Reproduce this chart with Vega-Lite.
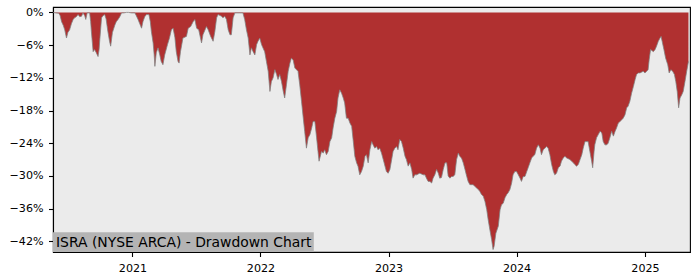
{
  "$schema": "https://vega.github.io/schema/vega-lite/v6.json",
  "width": 637,
  "height": 245,
  "autosize": "none",
  "padding": {"left": 53, "top": 7, "right": 10, "bottom": 28},
  "background": "white",
  "config": {
    "view": {"fill": "#ebebeb", "stroke": "#000000", "strokeWidth": 1.1},
    "axis": {
      "labelFont": "DejaVu Sans",
      "labelFontSize": 11.1,
      "labelColor": "#000000",
      "tickColor": "#000000",
      "tickSize": 4.5,
      "tickWidth": 1.1,
      "domainColor": "#000000",
      "domainWidth": 1.1,
      "grid": false,
      "labelPadding": 5.5,
      "title": null,
      "zindex": 1
    }
  },
  "data": {"values": [
      {"date":"2020-05-20","drawdown":0},{"date":"2020-05-27","drawdown":-0.1},{"date":"2020-06-05","drawdown":-0.15},{"date":"2020-06-09","drawdown":-0.6},{"date":"2020-06-13","drawdown":-1.7},{"date":"2020-06-18","drawdown":-2.4},{"date":"2020-06-22","drawdown":-3.2},{"date":"2020-06-27","drawdown":-4.7},{"date":"2020-07-01","drawdown":-3.7},{"date":"2020-07-06","drawdown":-3.2},
      {"date":"2020-07-11","drawdown":-2.1},{"date":"2020-07-16","drawdown":-1.3},{"date":"2020-07-20","drawdown":-1.0},{"date":"2020-07-25","drawdown":-0.8},{"date":"2020-07-30","drawdown":-0.4},{"date":"2020-08-04","drawdown":-0.8},{"date":"2020-08-09","drawdown":-0.7},{"date":"2020-08-13","drawdown":-0.1},{"date":"2020-08-18","drawdown":-0.6},{"date":"2020-08-21","drawdown":-1.3},
      {"date":"2020-08-25","drawdown":-0.1},{"date":"2020-09-01","drawdown":-0.1},{"date":"2020-09-04","drawdown":-1.7},{"date":"2020-09-06","drawdown":-3.5},{"date":"2020-09-11","drawdown":-7.2},{"date":"2020-09-15","drawdown":-6.8},{"date":"2020-09-20","drawdown":-7.4},{"date":"2020-09-25","drawdown":-8.1},{"date":"2020-09-28","drawdown":-6.8},{"date":"2020-09-30","drawdown":-5.0},
      {"date":"2020-10-05","drawdown":-1.0},{"date":"2020-10-09","drawdown":-0.6},{"date":"2020-10-14","drawdown":-0.4},{"date":"2020-10-18","drawdown":-1.2},{"date":"2020-10-23","drawdown":-3.5},{"date":"2020-10-28","drawdown":-5.4},{"date":"2020-10-31","drawdown":-6.2},{"date":"2020-11-05","drawdown":-3.7},{"date":"2020-11-12","drawdown":-2.3},{"date":"2020-11-16","drawdown":-1.7},
      {"date":"2020-11-21","drawdown":-1.3},{"date":"2020-11-26","drawdown":-0.8},{"date":"2020-12-01","drawdown":-0.1},{"date":"2020-12-07","drawdown":-0.1},{"date":"2020-12-15","drawdown":0},{"date":"2020-12-21","drawdown":0},{"date":"2020-12-29","drawdown":-0.1},{"date":"2021-01-08","drawdown":-0.1},{"date":"2021-01-12","drawdown":-0.6},{"date":"2021-01-17","drawdown":-1.3},
      {"date":"2021-01-22","drawdown":-2.1},{"date":"2021-01-27","drawdown":-2.9},{"date":"2021-01-31","drawdown":-1.7},{"date":"2021-02-05","drawdown":-0.8},{"date":"2021-02-10","drawdown":-0.4},{"date":"2021-02-17","drawdown":-0.4},{"date":"2021-02-21","drawdown":-1.7},{"date":"2021-02-24","drawdown":-3.5},{"date":"2021-03-01","drawdown":-5.6},{"date":"2021-03-04","drawdown":-7.8},
      {"date":"2021-03-06","drawdown":-9.9},{"date":"2021-03-10","drawdown":-7.4},{"date":"2021-03-15","drawdown":-6.5},{"date":"2021-03-20","drawdown":-7.8},{"date":"2021-03-24","drawdown":-9.0},{"date":"2021-03-29","drawdown":-9.6},{"date":"2021-04-03","drawdown":-7.8},{"date":"2021-04-11","drawdown":-5.9},{"date":"2021-04-17","drawdown":-4.6},{"date":"2021-04-22","drawdown":-3.2},
      {"date":"2021-04-27","drawdown":-2.9},{"date":"2021-05-02","drawdown":-4.6},{"date":"2021-05-06","drawdown":-7.2},{"date":"2021-05-11","drawdown":-9.0},{"date":"2021-05-14","drawdown":-9.3},{"date":"2021-05-18","drawdown":-7.2},{"date":"2021-05-25","drawdown":-4.7},{"date":"2021-06-04","drawdown":-4.4},{"date":"2021-06-09","drawdown":-2.9},{"date":"2021-06-16","drawdown":-2.6},
      {"date":"2021-06-23","drawdown":-1.7},{"date":"2021-06-28","drawdown":-1.3},{"date":"2021-07-03","drawdown":-2.9},{"date":"2021-07-09","drawdown":-3.2},{"date":"2021-07-17","drawdown":-5.6},{"date":"2021-07-21","drawdown":-4.1},{"date":"2021-07-31","drawdown":-2.6},{"date":"2021-08-05","drawdown":-3.2},{"date":"2021-08-12","drawdown":-4.4},{"date":"2021-08-19","drawdown":-5.3},
      {"date":"2021-08-24","drawdown":-3.5},{"date":"2021-08-29","drawdown":-1.0},{"date":"2021-09-02","drawdown":-0.4},{"date":"2021-09-12","drawdown":-0.7},{"date":"2021-09-16","drawdown":-1.0},{"date":"2021-09-21","drawdown":-0.7},{"date":"2021-09-26","drawdown":-1.3},{"date":"2021-10-01","drawdown":-3.2},{"date":"2021-10-06","drawdown":-4.1},{"date":"2021-10-10","drawdown":-4.1},
      {"date":"2021-10-15","drawdown":-1.0},{"date":"2021-10-20","drawdown":-0.1},{"date":"2021-11-03","drawdown":-0.1},{"date":"2021-11-12","drawdown":-0.1},{"date":"2021-11-17","drawdown":-1.3},{"date":"2021-11-22","drawdown":-3.2},{"date":"2021-11-27","drawdown":-4.7},{"date":"2021-12-02","drawdown":-7.8},{"date":"2021-12-06","drawdown":-6.5},{"date":"2021-12-11","drawdown":-7.2},
      {"date":"2021-12-16","drawdown":-7.8},{"date":"2021-12-21","drawdown":-5.9},{"date":"2021-12-25","drawdown":-5.3},{"date":"2021-12-30","drawdown":-4.7},{"date":"2022-01-04","drawdown":-5.9},{"date":"2022-01-08","drawdown":-6.5},{"date":"2022-01-13","drawdown":-7.2},{"date":"2022-01-18","drawdown":-9.0},{"date":"2022-01-23","drawdown":-10.8},{"date":"2022-01-28","drawdown":-14.5},
      {"date":"2022-02-01","drawdown":-12.7},{"date":"2022-02-06","drawdown":-12.0},{"date":"2022-02-11","drawdown":-10.5},{"date":"2022-02-16","drawdown":-11.4},{"date":"2022-02-20","drawdown":-12.3},{"date":"2022-02-25","drawdown":-11.4},{"date":"2022-03-02","drawdown":-12.7},{"date":"2022-03-07","drawdown":-14.5},{"date":"2022-03-11","drawdown":-15.7},{"date":"2022-03-16","drawdown":-13.3},
      {"date":"2022-03-21","drawdown":-10.8},{"date":"2022-03-26","drawdown":-9.3},{"date":"2022-03-30","drawdown":-8.4},{"date":"2022-04-04","drawdown":-8.7},{"date":"2022-04-09","drawdown":-10.2},{"date":"2022-04-18","drawdown":-10.8},{"date":"2022-04-23","drawdown":-13.3},{"date":"2022-04-28","drawdown":-16.3},{"date":"2022-05-03","drawdown":-19.4},{"date":"2022-05-07","drawdown":-21.8},
      {"date":"2022-05-12","drawdown":-24.9},{"date":"2022-05-17","drawdown":-23.0},{"date":"2022-05-22","drawdown":-22.4},{"date":"2022-05-27","drawdown":-21.2},{"date":"2022-05-31","drawdown":-20.0},{"date":"2022-06-05","drawdown":-20.0},{"date":"2022-06-10","drawdown":-23.0},{"date":"2022-06-14","drawdown":-25.5},{"date":"2022-06-17","drawdown":-27.3},{"date":"2022-06-24","drawdown":-25.5},
      {"date":"2022-06-29","drawdown":-25.8},{"date":"2022-07-03","drawdown":-25.2},{"date":"2022-07-08","drawdown":-26.1},{"date":"2022-07-13","drawdown":-25.5},{"date":"2022-07-18","drawdown":-23.7},{"date":"2022-07-23","drawdown":-23.0},{"date":"2022-07-27","drawdown":-21.2},{"date":"2022-08-01","drawdown":-19.4},{"date":"2022-08-06","drawdown":-18.2},{"date":"2022-08-10","drawdown":-15.7},
      {"date":"2022-08-15","drawdown":-14.2},{"date":"2022-08-20","drawdown":-14.8},{"date":"2022-08-25","drawdown":-15.7},{"date":"2022-08-29","drawdown":-16.6},{"date":"2022-09-03","drawdown":-19.4},{"date":"2022-09-08","drawdown":-19.4},{"date":"2022-09-13","drawdown":-20.3},{"date":"2022-09-18","drawdown":-20.9},{"date":"2022-09-22","drawdown":-23.3},{"date":"2022-09-27","drawdown":-26.4},
      {"date":"2022-10-02","drawdown":-27.6},{"date":"2022-10-06","drawdown":-28.2},{"date":"2022-10-11","drawdown":-29.8},{"date":"2022-10-16","drawdown":-29.2},{"date":"2022-10-21","drawdown":-28.2},{"date":"2022-10-26","drawdown":-26.4},{"date":"2022-10-30","drawdown":-26.1},{"date":"2022-11-04","drawdown":-27.6},{"date":"2022-11-09","drawdown":-25.2},{"date":"2022-11-14","drawdown":-23.7},
      {"date":"2022-11-18","drawdown":-24.3},{"date":"2022-11-23","drawdown":-24.9},{"date":"2022-11-28","drawdown":-24.6},{"date":"2022-12-02","drawdown":-25.2},{"date":"2022-12-07","drawdown":-24.9},{"date":"2022-12-12","drawdown":-25.8},{"date":"2022-12-17","drawdown":-27.0},{"date":"2022-12-26","drawdown":-29.2},{"date":"2022-12-31","drawdown":-29.5},{"date":"2023-01-05","drawdown":-28.8},
      {"date":"2023-01-10","drawdown":-27.0},{"date":"2023-01-14","drawdown":-25.5},{"date":"2023-01-19","drawdown":-24.9},{"date":"2023-01-24","drawdown":-24.6},{"date":"2023-01-28","drawdown":-25.2},{"date":"2023-02-02","drawdown":-23.3},{"date":"2023-02-07","drawdown":-23.7},{"date":"2023-02-12","drawdown":-24.9},{"date":"2023-02-17","drawdown":-26.4},{"date":"2023-02-21","drawdown":-27.0},
      {"date":"2023-02-26","drawdown":-28.2},{"date":"2023-03-03","drawdown":-27.6},{"date":"2023-03-08","drawdown":-28.8},{"date":"2023-03-12","drawdown":-30.4},{"date":"2023-03-17","drawdown":-29.8},{"date":"2023-03-22","drawdown":-29.8},{"date":"2023-03-31","drawdown":-29.5},{"date":"2023-04-10","drawdown":-29.8},{"date":"2023-04-15","drawdown":-29.8},{"date":"2023-04-19","drawdown":-30.4},
      {"date":"2023-04-24","drawdown":-31.0},{"date":"2023-04-29","drawdown":-31.0},{"date":"2023-05-04","drawdown":-31.3},{"date":"2023-05-08","drawdown":-30.4},{"date":"2023-05-13","drawdown":-29.8},{"date":"2023-05-18","drawdown":-28.8},{"date":"2023-05-23","drawdown":-29.5},{"date":"2023-05-27","drawdown":-30.4},{"date":"2023-06-01","drawdown":-30.3},{"date":"2023-06-06","drawdown":-28.8},
      {"date":"2023-06-11","drawdown":-27.6},{"date":"2023-06-16","drawdown":-27.6},{"date":"2023-06-20","drawdown":-30.0},{"date":"2023-06-25","drawdown":-30.4},{"date":"2023-06-30","drawdown":-30.1},{"date":"2023-07-04","drawdown":-30.1},{"date":"2023-07-09","drawdown":-29.8},{"date":"2023-07-14","drawdown":-27.0},{"date":"2023-07-19","drawdown":-25.8},{"date":"2023-07-23","drawdown":-26.4},
      {"date":"2023-07-28","drawdown":-26.7},{"date":"2023-08-02","drawdown":-27.6},{"date":"2023-08-07","drawdown":-28.8},{"date":"2023-08-12","drawdown":-30.1},{"date":"2023-08-16","drawdown":-31.0},{"date":"2023-08-21","drawdown":-31.6},{"date":"2023-08-26","drawdown":-31.6},{"date":"2023-08-30","drawdown":-31.6},{"date":"2023-09-04","drawdown":-31.9},{"date":"2023-09-09","drawdown":-32.2},
      {"date":"2023-09-14","drawdown":-32.5},{"date":"2023-09-18","drawdown":-32.8},{"date":"2023-09-23","drawdown":-33.4},{"date":"2023-09-28","drawdown":-33.7},{"date":"2023-10-03","drawdown":-34.7},{"date":"2023-10-08","drawdown":-36.2},{"date":"2023-10-12","drawdown":-38.0},{"date":"2023-10-17","drawdown":-39.9},{"date":"2023-10-22","drawdown":-41.7},{"date":"2023-10-26","drawdown":-43.5},
      {"date":"2023-10-29","drawdown":-42.9},{"date":"2023-11-03","drawdown":-40.5},{"date":"2023-11-10","drawdown":-39.2},{"date":"2023-11-15","drawdown":-36.2},{"date":"2023-11-19","drawdown":-35.3},{"date":"2023-11-24","drawdown":-35.0},{"date":"2023-11-29","drawdown":-34.0},{"date":"2023-12-04","drawdown":-33.4},{"date":"2023-12-08","drawdown":-33.1},{"date":"2023-12-13","drawdown":-32.5},
      {"date":"2023-12-18","drawdown":-31.3},{"date":"2023-12-22","drawdown":-29.8},{"date":"2023-12-27","drawdown":-29.2},{"date":"2024-01-01","drawdown":-29.2},{"date":"2024-01-06","drawdown":-29.8},{"date":"2024-01-11","drawdown":-30.4},{"date":"2024-01-15","drawdown":-31.0},{"date":"2024-01-20","drawdown":-30.1},{"date":"2024-01-25","drawdown":-30.1},{"date":"2024-01-30","drawdown":-29.2},
      {"date":"2024-02-03","drawdown":-28.5},{"date":"2024-02-08","drawdown":-27.6},{"date":"2024-02-13","drawdown":-26.7},{"date":"2024-02-17","drawdown":-26.4},{"date":"2024-02-22","drawdown":-26.1},{"date":"2024-02-27","drawdown":-24.9},{"date":"2024-03-03","drawdown":-24.3},{"date":"2024-03-08","drawdown":-24.9},{"date":"2024-03-12","drawdown":-26.1},{"date":"2024-03-17","drawdown":-25.2},
      {"date":"2024-03-27","drawdown":-24.6},{"date":"2024-03-31","drawdown":-24.9},{"date":"2024-04-05","drawdown":-26.1},{"date":"2024-04-10","drawdown":-27.9},{"date":"2024-04-15","drawdown":-29.2},{"date":"2024-04-19","drawdown":-29.8},{"date":"2024-04-24","drawdown":-29.5},{"date":"2024-04-29","drawdown":-28.5},{"date":"2024-05-04","drawdown":-28.2},{"date":"2024-05-08","drawdown":-27.3},
      {"date":"2024-05-13","drawdown":-26.7},{"date":"2024-05-18","drawdown":-26.4},{"date":"2024-05-23","drawdown":-26.7},{"date":"2024-06-01","drawdown":-27.0},{"date":"2024-06-11","drawdown":-27.6},{"date":"2024-06-15","drawdown":-27.9},{"date":"2024-06-20","drawdown":-28.2},{"date":"2024-06-25","drawdown":-27.9},{"date":"2024-06-30","drawdown":-27.0},{"date":"2024-07-05","drawdown":-26.1},
      {"date":"2024-07-09","drawdown":-24.9},{"date":"2024-07-14","drawdown":-23.7},{"date":"2024-07-23","drawdown":-23.7},{"date":"2024-07-28","drawdown":-25.5},{"date":"2024-08-02","drawdown":-27.3},{"date":"2024-08-05","drawdown":-28.5},{"date":"2024-08-09","drawdown":-25.5},{"date":"2024-08-11","drawdown":-24.3},{"date":"2024-08-16","drawdown":-23.0},{"date":"2024-08-21","drawdown":-22.4},
      {"date":"2024-08-26","drawdown":-21.8},{"date":"2024-08-31","drawdown":-22.1},{"date":"2024-09-04","drawdown":-23.7},{"date":"2024-09-09","drawdown":-24.3},{"date":"2024-09-14","drawdown":-24.3},{"date":"2024-09-18","drawdown":-24.0},{"date":"2024-09-23","drawdown":-23.0},{"date":"2024-09-28","drawdown":-21.8},{"date":"2024-10-03","drawdown":-22.7},{"date":"2024-10-08","drawdown":-21.8},
      {"date":"2024-10-12","drawdown":-21.2},{"date":"2024-10-17","drawdown":-20.3},{"date":"2024-10-22","drawdown":-20.0},{"date":"2024-10-27","drawdown":-19.7},{"date":"2024-10-31","drawdown":-19.4},{"date":"2024-11-05","drawdown":-18.8},{"date":"2024-11-10","drawdown":-17.5},{"date":"2024-11-14","drawdown":-17.2},{"date":"2024-11-19","drawdown":-16.3},{"date":"2024-11-24","drawdown":-14.8},
      {"date":"2024-11-29","drawdown":-13.6},{"date":"2024-12-04","drawdown":-12.3},{"date":"2024-12-08","drawdown":-11.4},{"date":"2024-12-13","drawdown":-11.1},{"date":"2024-12-18","drawdown":-11.1},{"date":"2024-12-27","drawdown":-10.8},{"date":"2025-01-01","drawdown":-11.1},{"date":"2025-01-06","drawdown":-10.8},{"date":"2025-01-10","drawdown":-10.5},{"date":"2025-01-13","drawdown":-8.7},
      {"date":"2025-01-17","drawdown":-6.8},{"date":"2025-01-25","drawdown":-7.2},{"date":"2025-01-30","drawdown":-6.8},{"date":"2025-02-03","drawdown":-6.2},{"date":"2025-02-08","drawdown":-5.3},{"date":"2025-02-13","drawdown":-4.7},{"date":"2025-02-16","drawdown":-4.4},{"date":"2025-02-19","drawdown":-5.3},{"date":"2025-02-24","drawdown":-6.8},{"date":"2025-03-01","drawdown":-8.4},
      {"date":"2025-03-07","drawdown":-9.6},{"date":"2025-03-11","drawdown":-11.1},{"date":"2025-03-16","drawdown":-10.5},{"date":"2025-03-21","drawdown":-10.8},{"date":"2025-03-26","drawdown":-11.4},{"date":"2025-03-30","drawdown":-12.7},{"date":"2025-04-03","drawdown":-14.5},{"date":"2025-04-07","drawdown":-17.5},{"date":"2025-04-11","drawdown":-15.7},{"date":"2025-04-16","drawdown":-15.1},
      {"date":"2025-04-20","drawdown":-14.5},{"date":"2025-04-25","drawdown":-12.7},{"date":"2025-04-30","drawdown":-10.8},{"date":"2025-05-05","drawdown":-9.0}
  ]},
  "encoding": {
    "x": {
      "field": "date",
      "type": "temporal",
      "scale": {
        "type": "utc",
        "domain": [
          {"year": 2020, "month": 5, "date": 19, "hours": 14, "utc": true},
          {"year": 2025, "month": 5, "date": 9, "hours": 10, "utc": true}
        ]
      },
      "axis": {
        "format": "%Y",
        "labelOverlap": false,
        "values": [
          {"year": 2021, "month": 1, "date": 1, "utc": true},
          {"year": 2022, "month": 1, "date": 1, "utc": true},
          {"year": 2023, "month": 1, "date": 1, "utc": true},
          {"year": 2024, "month": 1, "date": 1, "utc": true},
          {"year": 2025, "month": 1, "date": 1, "utc": true}
        ]
      }
    },
    "y": {
      "field": "drawdown",
      "type": "quantitative",
      "scale": {"domain": [-43.95, 0.99], "nice": false, "zero": false},
      "axis": {
        "labelOverlap": false,
        "values": [0, -6, -12, -18, -24, -30, -36, -42],
        "labelExpr": "format(datum.value, 'd') + '%'"
      }
    }
  },
  "layer": [
    {
      "mark": {"type": "area", "color": "#b03030", "opacity": 1},
      "encoding": {"y2": {"datum": 0}}
    },
    {
      "mark": {"type": "line", "color": "#808080", "strokeWidth": 1, "opacity": 0.75}
    },
    {
      "transform": [{"filter": "utcyear(datum.date) == 2020 && utcmonth(datum.date) == 4 && datum.drawdown == 0"}],
      "mark": {"type": "rect", "color": "#b4b4b4", "opacity": 1},
      "encoding": {
        "x": {"datum": {"year": 2020, "month": 5, "date": 19, "hours": 14, "utc": true}, "type": "temporal"},
        "x2": {"datum": {"year": 2022, "month": 6, "date": 2, "utc": true}},
        "y": {"datum": -43.95, "type": "quantitative"},
        "y2": {"datum": -40.35}
      }
    },
    {
      "transform": [{"filter": "utcyear(datum.date) == 2020 && utcmonth(datum.date) == 4 && datum.drawdown == 0"}],
      "mark": {
        "type": "text",
        "text": "ISRA (NYSE ARCA) - Drawdown Chart",
        "font": "DejaVu Sans",
        "fontSize": 13.9,
        "color": "#000000",
        "align": "left",
        "baseline": "alphabetic",
        "dx": 3,
        "dy": -5
      },
      "encoding": {
        "x": {"datum": {"year": 2020, "month": 5, "date": 19, "hours": 14, "utc": true}, "type": "temporal"},
        "y": {"datum": -43.95, "type": "quantitative"}
      }
    }
  ]
}
